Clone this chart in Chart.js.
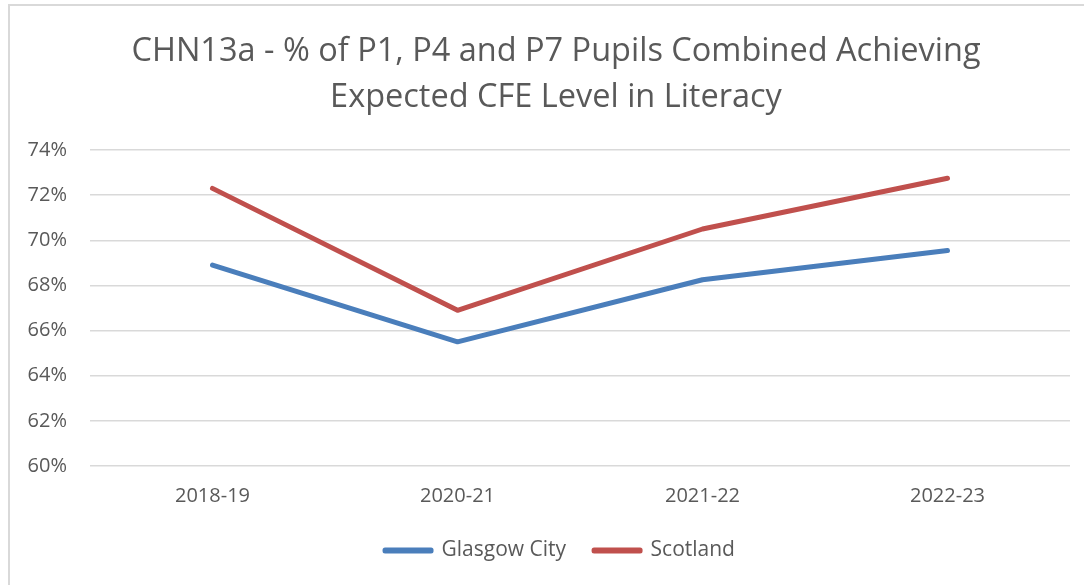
<!DOCTYPE html>
<html>
<head>
<meta charset="utf-8">
<script src="https://cdn.jsdelivr.net/npm/chart.js@4.4.1/dist/chart.umd.min.js"></script>
<style>
  html, body { margin: 0; padding: 0; background: #fff; }
  #frame {
    position: absolute; left: 8px; top: 4px; width: 1100px; height: 600px;
    border-left: 2px solid #d9d9d9; border-top: 2px solid #d9d9d9;
  }
  #wrap { position: absolute; left: 0; top: 0; width: 1084px; height: 585px; }
</style>
</head>
<body>
<div id="frame"></div>
<div id="wrap"><canvas id="myChart" width="1084" height="585"></canvas></div>
<script>
const categories = ['2018-19', '2020-21', '2021-22', '2022-23'];
const glasgowCity = [68.9, 65.5, 68.25, 69.55];
const scotland = [72.3, 66.9, 70.5, 72.75];
const titleLines = ['CHN13a - % of P1, P4 and P7 Pupils Combined Achieving', 'Expected CFE Level in Literacy'];

const fontFamily = '"Open Sans", sans-serif';
const textColor = '#595959';

// nudge title and legend right so they sit where the original ones do
const boxShift = {
    id: 'boxShift',
    afterLayout(chart) {
        if (chart.legend) {
            chart.legend.left += 25;
            chart.legend.right += 25;
        }
        if (chart.titleBlock) {
            chart.titleBlock.left += 21;
            chart.titleBlock.right += 21;
        }
    }
};

const ctx = document.getElementById('myChart').getContext('2d');
const chart = new Chart(ctx, {
    type: 'line',
    data: {
        labels: categories,
        datasets: [
            {
                label: 'Glasgow City',
                data: glasgowCity,
                borderColor: '#4a7ebb',
                backgroundColor: '#4a7ebb',
                borderWidth: 5,
                borderCapStyle: 'round',
                borderJoinStyle: 'round',
                pointRadius: 0,
                tension: 0,
            },
            {
                label: 'Scotland',
                data: scotland,
                borderColor: '#c0504d',
                backgroundColor: '#c0504d',
                borderWidth: 5,
                borderCapStyle: 'round',
                borderJoinStyle: 'round',
                pointRadius: 0,
                tension: 0,
            },
        ],
    },
    options: {
        responsive: false,
        animation: false,
        layout: {
            padding: { left: 0, right: 14, top: 29, bottom: 14 },
        },
        scales: {
            x: {
                offset: true,
                afterFit: (scale) => { scale.height = scale.height - 14; },
                grid: { display: false, drawTicks: false },
                border: { display: false },
                ticks: {
                    color: textColor,
                    font: { family: fontFamily, size: 20 },
                    padding: 18,
                },
            },
            y: {
                min: 60,
                max: 74,
                afterFit: (scale) => { scale.width = 90; },
                grid: { color: '#d9d9d9', lineWidth: 1.5, drawTicks: false },
                border: { display: false },
                ticks: {
                    stepSize: 2,
                    color: textColor,
                    font: { family: fontFamily, size: 20 },
                    padding: 23,
                    callback: (v) => v + '%',
                },
            },
        },
        plugins: {
            title: {
                display: true,
                text: titleLines,
                color: textColor,
                font: { family: fontFamily, size: 32.5, weight: 'normal', lineHeight: 1.4 },
                padding: { top: 0, bottom: 30 },
            },
            legend: {
                position: 'bottom',
                labels: {
                    color: textColor,
                    font: { family: fontFamily, size: 21 },
                    boxWidth: 46,
                    boxHeight: 1,
                    padding: 28,
                },
            },
            tooltip: { enabled: false },
        },
    },
    plugins: [boxShift],
});
</script>
</body>
</html>
